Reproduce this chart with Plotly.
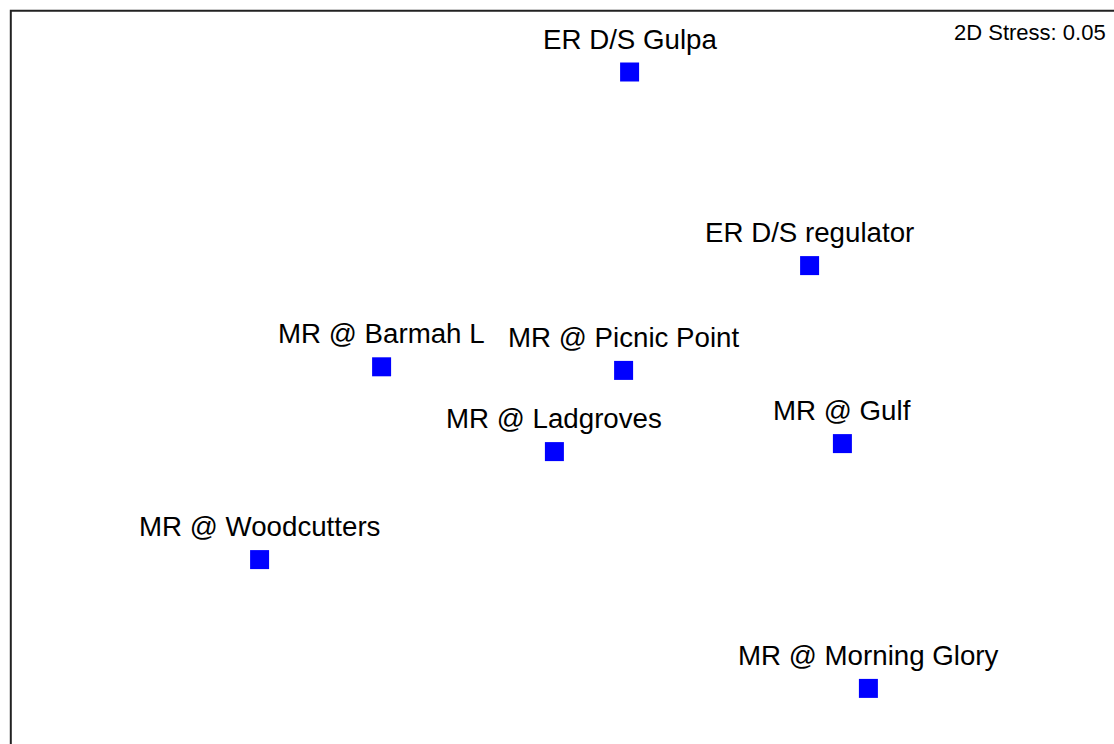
import plotly.graph_objects as go

# nMDS ordination of sampling sites (arbitrary axis units)
sites = [
    "ER D/S Gulpa",
    "ER D/S regulator",
    "MR @ Barmah L",
    "MR @ Picnic Point",
    "MR @ Ladgroves",
    "MR @ Gulf",
    "MR @ Woodcutters",
    "MR @ Morning Glory",
]
mds1 = [0.174, 0.624, -0.446, 0.159, -0.014, 0.706, -0.751, 0.771]
mds2 = [0.820, 0.336, 0.083, 0.074, -0.129, -0.109, -0.399, -0.721]
stress_label = "2D Stress: 0.05"

W, H = 1114, 744
FONT = "Liberation Sans, Arial, Helvetica, sans-serif"

fig = go.Figure()
fig.add_trace(go.Scatter(
    x=mds1, y=mds2, mode="markers",
    marker=dict(symbol="square", size=19, color="#0000FF", line=dict(width=0)),
    hovertext=sites, hoverinfo="text", showlegend=False,
))

annotations = [
    dict(x=x, y=y, xref="x", yref="y", text=s, showarrow=False,
         xanchor="center", yanchor="middle", yshift=33,
         font=dict(family=FONT, size=27.7, color="#000000"))
    for s, x, y in zip(sites, mds1, mds2)
]
annotations.append(dict(
    x=1108 / W, y=1 - 33 / H, xref="paper", yref="paper", text=stress_label,
    showarrow=False, xanchor="right", yanchor="middle",
    font=dict(family=FONT, size=22, color="#000000"),
))

fig.update_layout(
    width=W, height=H,
    margin=dict(l=0, r=0, t=0, b=0),
    paper_bgcolor="white", plot_bgcolor="white",
    xaxis=dict(range=[-1.4, 1.385], visible=False, fixedrange=True),
    yaxis=dict(range=[-0.86, 1.0], visible=False, fixedrange=True),
    annotations=annotations,
    shapes=[dict(
        type="rect", xref="paper", yref="paper",
        x0=10.8 / W, x1=1.05, y0=-0.05, y1=1 - 10.8 / H,
        line=dict(color="#222222", width=2), fillcolor="rgba(0,0,0,0)",
        layer="below",
    )],
)

fig.write_html("out.html")
